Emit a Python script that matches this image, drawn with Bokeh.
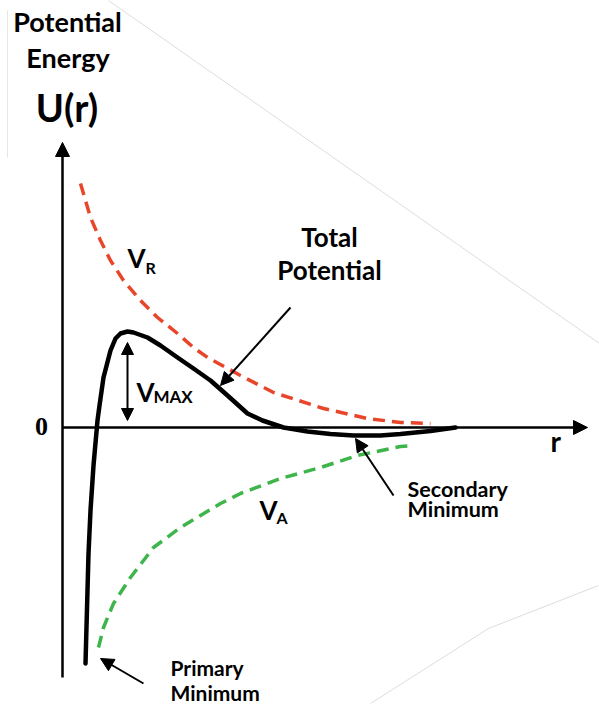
from bokeh.plotting import figure
from bokeh.models import Arrow, NormalHead, Label, Range1d
from bokeh.embed import file_html
from bokeh.resources import INLINE

# ---- data (arbitrary units: r = separation, U = potential energy) ----
vr_r = [0.36, 0.56, 0.76, 0.96, 1.22, 1.56, 1.90, 2.30, 2.62, 2.90, 3.56, 4.22, 5.22, 6.10, 6.76, 7.36]
vr_u = [4.88, 4.20, 3.74, 3.34, 2.94, 2.54, 2.20, 1.88, 1.60, 1.40, 1.04, 0.70, 0.38, 0.18, 0.10, 0.08]

va_r = [0.72, 0.82, 1.02, 1.36, 1.82, 2.36, 3.16, 3.56, 4.36, 5.16, 5.90, 6.76, 7.00]
va_u = [-4.40, -4.00, -3.52, -3.00, -2.40, -2.00, -1.52, -1.32, -1.02, -0.80, -0.56, -0.38, -0.36]

tot_r = [0.46, 0.52, 0.56, 0.62, 0.70, 0.74, 0.82, 0.96, 1.06, 1.16, 1.30, 1.42, 1.70, 1.96,
         2.30, 2.62, 2.96, 3.30, 3.70, 4.00, 4.42, 4.90, 5.36, 5.82, 6.36, 6.76, 7.36, 7.86]
tot_u = [-4.72, -2.52, -1.66, -0.76, 0.14, 0.44, 1.00, 1.54, 1.78, 1.88, 1.92, 1.90, 1.80, 1.64,
         1.40, 1.18, 0.94, 0.64, 0.28, 0.14, 0.00, -0.08, -0.13, -0.16, -0.16, -0.13, -0.07, 0.00]

# axes extents
y_axis_u = [-5.0, 5.7]
x_axis_r = [0.0, 10.5]

# pointer arrows: (r_start, u_start, r_end, u_end)
pointer_total = [4.56, 2.40, 3.16, 0.84]
pointer_secondary = [6.62, -1.36, 5.86, -0.22]
pointer_primary = [1.62, -5.12, 0.76, -4.62]
vmax_span = [1.30, 1.70, 1.30, 0.14]

# faint background lines from the source slide
faint1_r = [0.92, 10.74]
faint1_u = [8.54, 1.68]
faint2_r = [6.16, 8.52, 10.72]
faint2_u = [-5.52, -4.02, -3.16]
faint3_r = [-1.10, -1.10]
faint3_u = [8.34, 5.40]

# text labels (baseline positions)
label_text = ["Potential", "Energy", "U(r)", "Total", "Potential", "Secondary", "Minimum", "Primary", "Minimum", "r"]
label_r = [0.10, 0.11, 0.09, 5.34, 5.34, 6.90, 6.90, 2.16, 2.16, 9.76]
label_u = [7.90, 7.18, 6.10, 3.60, 2.94, -1.40, -1.80, -4.96, -5.46, -0.50]
label_size = [27, 27, 38, 26, 26, 21.5, 21.5, 21, 21, 28]
label_align = ["center", "center", "center", "center", "center", "left", "left", "left", "left", "left"]

# V labels with subscripts: main letter, subscript
v_sub = ["R", "MAX", "A"]
v_r = [1.30, 1.48, 3.94]
v_u = [3.18, 0.50, -1.86]
sub_r = [1.66, 1.82, 4.28]
sub_u = [3.08, 0.48, -1.92]
sub_size = [16, 17, 16]

FONT = "Lato"
PX = 50.0          # pixels per data unit
LIFT = 0.4         # baseline correction, fraction of font size


def add_label(p, x, y, text, size, align, font=FONT):
    p.add_layout(Label(x=x, y=y + LIFT * size / PX, text=text, text_font=font,
                       text_font_style="bold", text_font_size=f"{size}px",
                       text_align=align, text_baseline="alphabetic", text_color="black"))


p = figure(width=599, height=704, output_backend="svg", toolbar_location=None,
           x_range=Range1d(-1.24, 10.74), y_range=Range1d(-5.54, 8.54),
           x_axis_location=None, y_axis_location=None, min_border=0)
p.grid.visible = False
p.outline_line_color = None
p.background_fill_color = "white"
p.border_fill_color = "white"

# faint lines
p.line(faint1_r, faint1_u, line_color="#dddddd", line_width=1)
p.line(faint2_r, faint2_u, line_color="#dddddd", line_width=1)
p.line(faint3_r, faint3_u, line_color="#e6e6e6", line_width=1)

# axes
p.add_layout(Arrow(end=NormalHead(size=14, fill_color="black", line_color="black"),
                   x_start=0, y_start=y_axis_u[0], x_end=0, y_end=y_axis_u[1],
                   line_width=2.5, line_color="black"))
p.add_layout(Arrow(end=NormalHead(size=14, fill_color="black", line_color="black"),
                   x_start=x_axis_r[0], y_start=0, x_end=x_axis_r[1], y_end=0,
                   line_width=2.5, line_color="black"))

# curves
p.line(vr_r, vr_u, line_color="#E8462A", line_width=3.5, line_dash="12 7")
p.line(va_r, va_u, line_color="#3DB54A", line_width=3.5, line_dash="12 7")
p.line(tot_r, tot_u, line_color="black", line_width=4.5, line_join="round", line_cap="round")

# pointer arrows
for a in (pointer_total, pointer_secondary, pointer_primary):
    p.add_layout(Arrow(end=NormalHead(size=13, fill_color="black", line_color="black"),
                       x_start=a[0], y_start=a[1], x_end=a[2], y_end=a[3],
                       line_width=2, line_color="black"))
p.add_layout(Arrow(start=NormalHead(size=12, fill_color="black", line_color="black"),
                   end=NormalHead(size=12, fill_color="black", line_color="black"),
                   x_start=vmax_span[0], y_start=vmax_span[1], x_end=vmax_span[2], y_end=vmax_span[3],
                   line_width=2, line_color="black"))

# labels
for t, x, y, s, al in zip(label_text, label_r, label_u, label_size, label_align):
    add_label(p, x, y, t, s, al)

for sub, x, y, sx, sy, ss in zip(v_sub, v_r, v_u, sub_r, sub_u, sub_size):
    add_label(p, x, y, "V", 26, "left")
    add_label(p, sx, sy, sub, ss, "left")

add_label(p, -0.42, -0.18, "0", 26, "center", font="Liberation Serif")

open("out.html", "w").write(file_html(p, INLINE))
